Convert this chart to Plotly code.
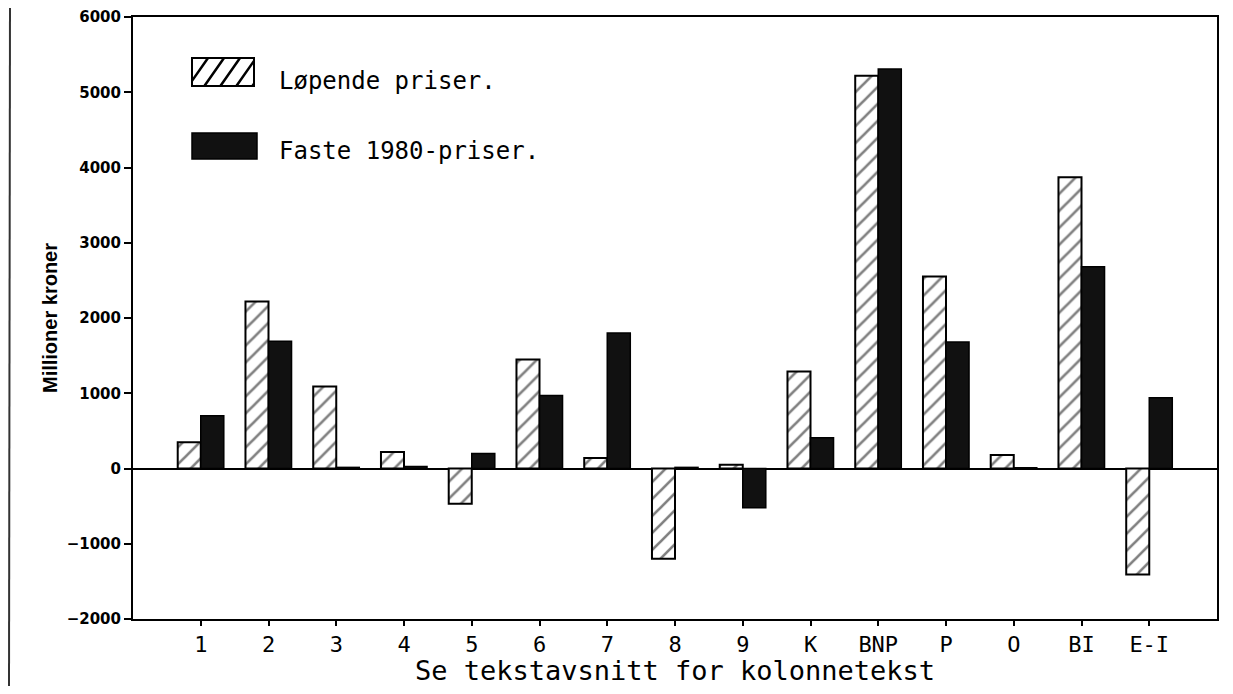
import plotly.graph_objects as go

# ---- data ----
categories = ["1", "2", "3", "4", "5", "6", "7", "8", "9", "K", "BNP", "P", "O", "BI", "E-I"]
lopende_priser = [350, 2220, 1090, 220, -470, 1450, 140, -1200, 50, 1290, 5220, 2550, 180, 3870, -1410]
faste_1980_priser = [700, 1690, 15, 25, 200, 970, 1800, 15, -520, 410, 5310, 1680, 10, 2680, 940]
y_ticks = [-2000, -1000, 0, 1000, 2000, 3000, 4000, 5000, 6000]
series_names = ["Løpende priser.", "Faste 1980-priser."]

# page has an 8px body margin: figure sits at (8, 8)
OFF = 8
W, H = 1217, 678
L, R, T, B = 125, 8, 9, 67
PW, PH = W - L - R, H - T - B

def px(x):  # page pixel -> paper
    return (x - OFF - L) / PW

def py(y):
    return (H - B - (y - OFF)) / PH

MONO = "DejaVu Sans Mono"

fig = go.Figure()
fig.add_trace(go.Bar(
    x=categories, y=lopende_priser, name=series_names[0],
    marker=dict(color="white", line=dict(color="black", width=2),
                pattern=dict(shape="/", fgcolor="black", bgcolor="white", size=12, solidity=0.22)),
))
fig.add_trace(go.Bar(
    x=categories, y=faste_1980_priser, name=series_names[1],
    marker=dict(color="#111111", line=dict(color="black", width=1.5)),
))

# ---- custom legend (swatches + labels) ----
shapes = []
hx0, hy0, hx1, hy1 = 192, 58, 254, 86
shapes.append(dict(type="rect", xref="paper", yref="paper", x0=px(hx0), x1=px(hx1), y0=py(hy1), y1=py(hy0),
                   line=dict(color="black", width=2), fillcolor="white", layer="above"))
run = 0.7 * (hy1 - hy0)
step = 16
t = -run
segs = []
while t < (hx1 - hx0):
    xa, xb = hx0 + t, hx0 + t + run
    ya, yb = hy1, hy0

    def interp(xv):
        return ya + (yb - ya) * (xv - xa) / (xb - xa)
    cxa, cya, cxb, cyb = xa, ya, xb, yb
    if cxa < hx0:
        cya = interp(hx0); cxa = hx0
    if cxb > hx1:
        cyb = interp(hx1); cxb = hx1
    if cxb > cxa:
        segs.append(f"M{px(cxa)},{py(cya)} L{px(cxb)},{py(cyb)}")
    t += step
shapes.append(dict(type="path", xref="paper", yref="paper", path=" ".join(segs),
                   line=dict(color="black", width=2.5), layer="above"))
sx0, sy0, sx1, sy1 = 192, 133, 257, 159
shapes.append(dict(type="rect", xref="paper", yref="paper", x0=px(sx0), x1=px(sx1), y0=py(sy1), y1=py(sy0),
                   line=dict(color="black", width=1.5), fillcolor="#111111", layer="above"))
# scanned page border line at the far left
shapes.append(dict(type="line", xref="paper", yref="paper", x0=px(10), x1=px(9), y0=py(0), y1=py(690),
                   line=dict(color="#333333", width=2)))

annotations = [
    dict(x=px(277), y=py(81), xref="paper", yref="paper", text=series_names[0], showarrow=False,
         xanchor="left", yanchor="middle", font=dict(family=MONO, size=24, color="black")),
    dict(x=px(277), y=py(151), xref="paper", yref="paper", text=series_names[1], showarrow=False,
         xanchor="left", yanchor="middle", font=dict(family=MONO, size=24, color="black")),
]

fig.update_layout(
    width=W, height=H,
    margin=dict(l=L, r=R, t=T, b=B, autoexpand=False),
    paper_bgcolor="white", plot_bgcolor="white",
    barmode="group", bargap=0.32, bargroupgap=0,
    showlegend=False,
    font=dict(family=MONO, color="black"),
    shapes=shapes, annotations=annotations,
    xaxis=dict(
        type="category", categoryorder="array", categoryarray=categories,
        range=[-1, 15], showline=True, linecolor="black", linewidth=2, mirror=True,
        ticks="outside", ticklen=5, tickwidth=2, tickcolor="black",
        tickfont=dict(family=MONO, size=22, color="black"), ticklabelstandoff=0,
        showgrid=False, zeroline=False,
        title=dict(text="Se tekstavsnitt for kolonnetekst", font=dict(family=MONO, size=27, color="black"), standoff=21),
    ),
    yaxis=dict(
        range=[-2000, 6000], tickvals=y_ticks, tickformat="d",
        showline=True, linecolor="black", linewidth=2, mirror=True,
        ticks="outside", ticklen=7, tickwidth=2, tickcolor="black",
        tickfont=dict(family="DejaVu Sans", size=15, color="black", weight="bold"),
        showgrid=False, zeroline=True, zerolinecolor="black", zerolinewidth=2,
        title=dict(text="Millioner kroner", font=dict(family="Liberation Sans", size=20, color="black", weight="bold"), standoff=4),
    ),
    xaxis2=dict(overlaying="x", anchor="y", side="bottom", range=[-1, 15], tickvals=list(range(15)),
                ticks="inside", ticklen=4, tickwidth=2, tickcolor="black", showticklabels=False,
                showline=False, showgrid=False, zeroline=False),
    yaxis2=dict(overlaying="y", anchor="x", side="left", range=[-2000, 6000], tickvals=y_ticks,
                ticks="inside", ticklen=7, tickwidth=2, tickcolor="black", showticklabels=False,
                showline=False, showgrid=False, zeroline=False),
)

fig.write_html("out.html")
